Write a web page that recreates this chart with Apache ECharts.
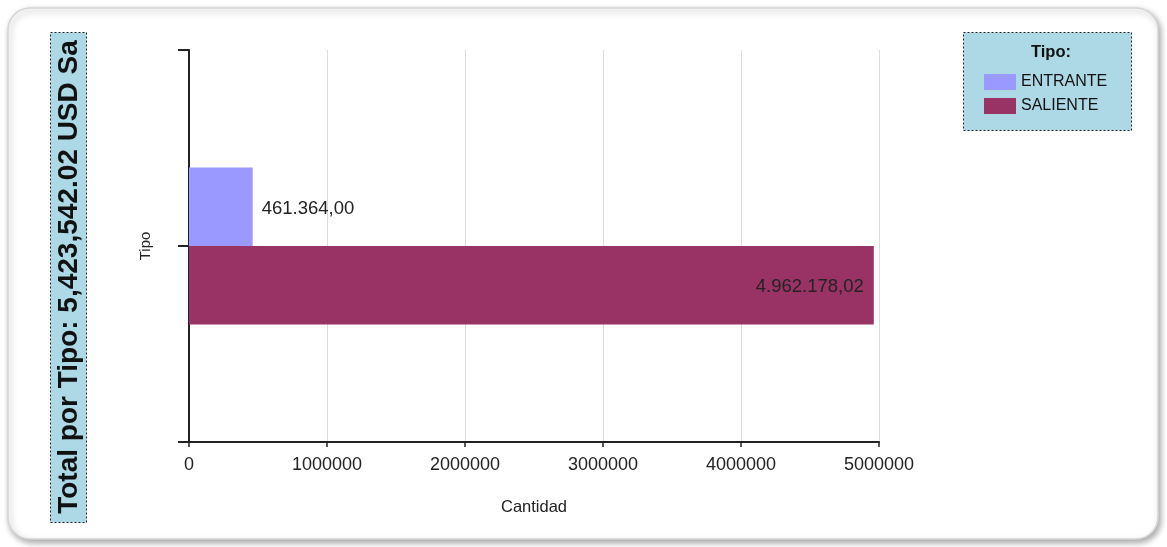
<!DOCTYPE html>
<html>
<head>
<meta charset="utf-8">
<script src="https://cdn.jsdelivr.net/npm/echarts@6/dist/echarts.min.js"></script>
<style>
  html, body { margin: 0; padding: 0; background: #fff; }
  #chart { width: 1167px; height: 547px; }
</style>
</head>
<body>
<div id="chart"></div>
<script>
// Amounts by movement type
const categories = [''];
const seriesNames = ['ENTRANTE', 'SALIENTE'];
const seriesValues = [461364.00, 4962178.02];
const seriesColors = ['#9999FF', '#993366'];
const xAxisMax = 5000000;
const xAxisStep = 1000000;
const sideTitle = 'Total por Tipo: 5,423,542.02 USD Sa';

const sans = '"Liberation Sans", Arial, sans-serif';

// 1234567.8 -> "1.234.567,80"
function fmtEs(v) {
  const parts = v.toFixed(2).split('.');
  return parts[0].replace(/\B(?=(\d{3})+(?!\d))/g, '.') + ',' + parts[1];
}

const chart = echarts.init(document.getElementById('chart'), null, { renderer: 'canvas' });

const series = seriesNames.map((name, i) => ({
  name: name,
  type: 'bar',
  data: [seriesValues[i]],
  barWidth: '20%',
  barGap: '0%',
  itemStyle: { color: seriesColors[i] },
  label: {
    show: true,
    position: i === 0 ? 'right' : 'insideRight',
    distance: i === 0 ? 9 : 10,
    offset: [0, 2],
    formatter: p => fmtEs(p.value),
    fontFamily: sans,
    fontSize: 18.5,
    color: '#222'
  }
}));

chart.setOption({
  animation: false,
  grid: { left: 189, right: 288, top: 50, bottom: 105 },
  xAxis: {
    type: 'value',
    min: 0,
    max: xAxisMax,
    interval: xAxisStep,
    name: 'Cantidad',
    nameLocation: 'middle',
    nameGap: 57,
    nameTextStyle: { fontFamily: sans, fontSize: 16.5, color: '#222' },
    axisLine: { show: true, lineStyle: { color: '#222', width: 2 } },
    axisTick: { show: true, length: 5, lineStyle: { color: '#222', width: 1.5 } },
    axisLabel: { fontFamily: sans, fontSize: 18, color: '#222', margin: 14, formatter: v => String(v) },
    splitLine: { show: true, lineStyle: { color: '#dcdcdc', width: 1 } }
  },
  yAxis: [
    {
      type: 'category',
      data: categories,
      inverse: true,
      name: 'Tipo',
      nameLocation: 'middle',
      nameGap: 36,
      nameRotate: 90,
      nameTextStyle: { fontFamily: sans, fontSize: 15, color: '#222' },
      axisLine: { show: true, lineStyle: { color: '#222', width: 2 } },
      axisTick: { show: true, length: 11, lineStyle: { color: '#222', width: 2 } },
      axisLabel: { show: false }
    },
    {
      // extra ticks at the axis ends and the middle
      type: 'category',
      data: ['', ''],
      position: 'left',
      axisLine: { show: false },
      axisTick: { show: true, length: 11, lineStyle: { color: '#222', width: 2 } },
      axisLabel: { show: false },
      splitLine: { show: false }
    }
  ],
  legend: {
    orient: 'vertical',
    left: 979,
    top: 69,
    icon: 'rect',
    itemWidth: 32,
    itemHeight: 16,
    itemGap: 8,
    data: seriesNames,
    textStyle: { fontFamily: sans, fontSize: 16, color: '#111' },
    selectedMode: false
  },
  graphic: [
    {
      type: 'rect',
      z: -10,
      shape: { x: 8, y: 8, width: 1150, height: 531, r: 22 },
      style: {
        fill: '#fff',
        stroke: '#d6d6d6',
        lineWidth: 1.5,
        shadowBlur: 6,
        shadowOffsetX: 2,
        shadowOffsetY: 3,
        shadowColor: 'rgba(0,0,0,0.35)'
      }
    },
    {
      type: 'rect',
      shape: { x: 50.5, y: 32.5, width: 36, height: 490 },
      style: { fill: '#ADD8E6', stroke: '#222', lineWidth: 1, lineDash: [2, 2] }
    },
    {
      type: 'text',
      x: 69,
      y: 277,
      rotation: Math.PI / 2,
      style: {
        text: sideTitle,
        fontFamily: sans,
        fontWeight: 'bold',
        fontSize: 28,
        fill: '#111',
        align: 'center',
        verticalAlign: 'middle'
      }
    },
    {
      type: 'rect',
      z: -1,
      shape: { x: 963.5, y: 32.5, width: 168, height: 98 },
      style: { fill: '#ADD8E6', stroke: '#222', lineWidth: 1, lineDash: [2, 2] }
    },
    {
      type: 'text',
      x: 1051,
      y: 52,
      style: {
        text: 'Tipo:',
        fontFamily: sans,
        fontWeight: 'bold',
        fontSize: 16.5,
        fill: '#111',
        align: 'center',
        verticalAlign: 'middle'
      }
    }
  ],
  series: series
});
</script>
</body>
</html>
